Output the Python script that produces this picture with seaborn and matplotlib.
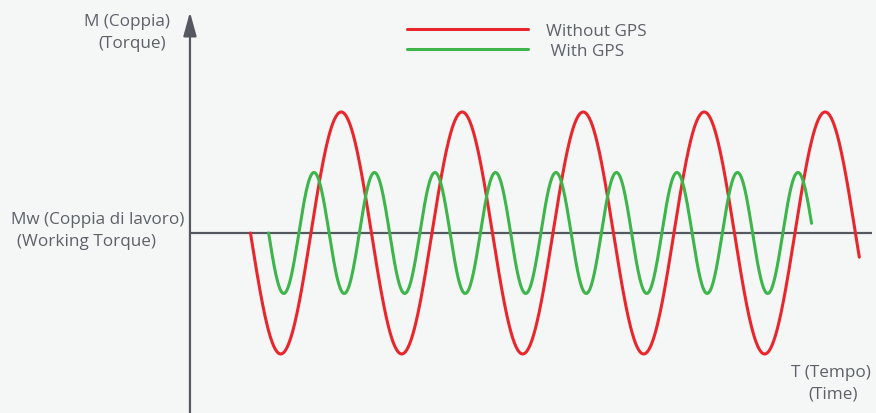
import numpy as np
import pandas as pd
import matplotlib.pyplot as plt
import seaborn as sns

# knots: points on the working torque line, then peaks / troughs
# time in units of one "With GPS" period, torque with Mw = 1
mw = 1.0

red_t = [1.0, 1.5, 2.0, 2.5, 3.0, 3.5, 4.0, 4.5, 5.0, 5.5, 6.0,
         6.5, 7.0, 7.5, 8.0, 8.5, 9.0, 9.5, 10.0, 10.5, 11.0, 11.5]
red_m = [1.0, 0.5, 1.0, 1.5, 1.0, 0.5, 1.0, 1.5, 1.0, 0.5, 1.0,
         1.5, 1.0, 0.5, 1.0, 1.5, 1.0, 0.5, 1.0, 1.5, 1.0, 0.5]
red_end = 11.07

green_t = [1.30, 1.55, 1.80, 2.05, 2.30, 2.55, 2.80, 3.05, 3.30, 3.55,
           3.80, 4.05, 4.30, 4.55, 4.80, 5.05, 5.30, 5.55, 5.80, 6.05,
           6.30, 6.55, 6.80, 7.05, 7.30, 7.55, 7.80, 8.05, 8.30, 8.55,
           8.80, 9.05, 9.30, 9.55, 9.80, 10.05, 10.30]
green_m = [1.0, 0.75, 1.0, 1.25, 1.0, 0.75, 1.0, 1.25, 1.0, 0.75,
           1.0, 1.25, 1.0, 0.75, 1.0, 1.25, 1.0, 0.75, 1.0, 1.25,
           1.0, 0.75, 1.0, 1.25, 1.0, 0.75, 1.0, 1.25, 1.0, 0.75,
           1.0, 1.25, 1.0, 0.75, 1.0, 1.25, 1.0]
green_end = 10.28

series_names = ['Without GPS', 'With GPS']
colors = ['#e8262b', '#3db54b']
gray = '#54595f'
text_gray = '#5d6168'
bg = '#f5f7f7'


def wave(ts, ms, n=40):
    # quarter-sine shaped segment between each pair of knots
    xs, ys = [], []
    for t0, m0, t1, m1 in zip(ts, ms, ts[1:], ms[1:]):
        s = np.linspace(0, 1, n)
        if m0 == mw:
            shape = np.sin(np.pi / 2 * s)
        else:
            shape = 1 - np.cos(np.pi / 2 * s)
        xs.extend(t0 + (t1 - t0) * s)
        ys.extend(m0 + (m1 - m0) * shape)
    return xs, ys


frames = []
for name, ts, ms, end in zip(series_names, [red_t, green_t],
                             [red_m, green_m], [red_end, green_end]):
    xs, ys = wave(ts, ms)
    d = pd.DataFrame({'t': xs, 'm': ys, 'series': name})
    frames.append(d[d.t <= end])
df = pd.concat(frames, ignore_index=True)

sns.set_style('white')
plt.rcParams['font.family'] = ['Open Sans', 'DejaVu Sans']

fig = plt.figure(figsize=(8.76, 4.14), dpi=100, facecolor=bg)
ax = fig.add_axes([0, 0, 1, 1])
ax.set_xlim(-3.14, 11.34)
ax.set_ylim(0.256, 1.967)
ax.axis('off')

# axes drawn as arrows
ax.annotate('', xy=(0, 1.913), xytext=(0, 0.2),
            arrowprops=dict(arrowstyle='-|>,head_length=1.45,head_width=0.4',
                            mutation_scale=10, color=gray, lw=1.6,
                            shrinkA=0, shrinkB=0))
ax.annotate('', xy=(11.5, 0.264), xytext=(0, 0.264),
            arrowprops=dict(arrowstyle='-|>,head_length=1.45,head_width=0.4',
                            mutation_scale=10, color=gray, lw=1.6,
                            shrinkA=0, shrinkB=0))
# working torque line
ax.hlines(mw, 0, 11.27, color=gray, lw=1.6, zorder=1)

sns.lineplot(data=df, x='t', y='m', hue='series', palette=colors,
             sort=False, estimator=None, lw=2.2, ax=ax, zorder=3)

handles, labels = ax.get_legend_handles_labels()
labels = ['Without GPS', ' With GPS']
ax.legend(handles, labels, loc='upper left', frameon=False,
          bbox_to_anchor=(407 / 876, 1 - 24 / 414), borderpad=0,
          borderaxespad=0, handlelength=7.1, handletextpad=1.05,
          labelspacing=0.22, fontsize=12.3, labelcolor=text_gray)

def label(x, y, s, ha):
    fig.text(x / 876, 1 - y / 414, s, ha=ha, va='center',
             fontsize=12.3, color=text_gray)

label(170, 22, 'M (Coppia)', 'right')
label(166, 44, '(Torque)', 'right')
label(184, 220, 'Mw (Coppia di lavoro)', 'right')
label(156, 242, '(Working Torque)', 'right')
label(871, 373, 'T (Tempo)', 'right')
label(858, 395, '(Time)', 'right')

plt.savefig('out.png', dpi=100, facecolor=bg)
